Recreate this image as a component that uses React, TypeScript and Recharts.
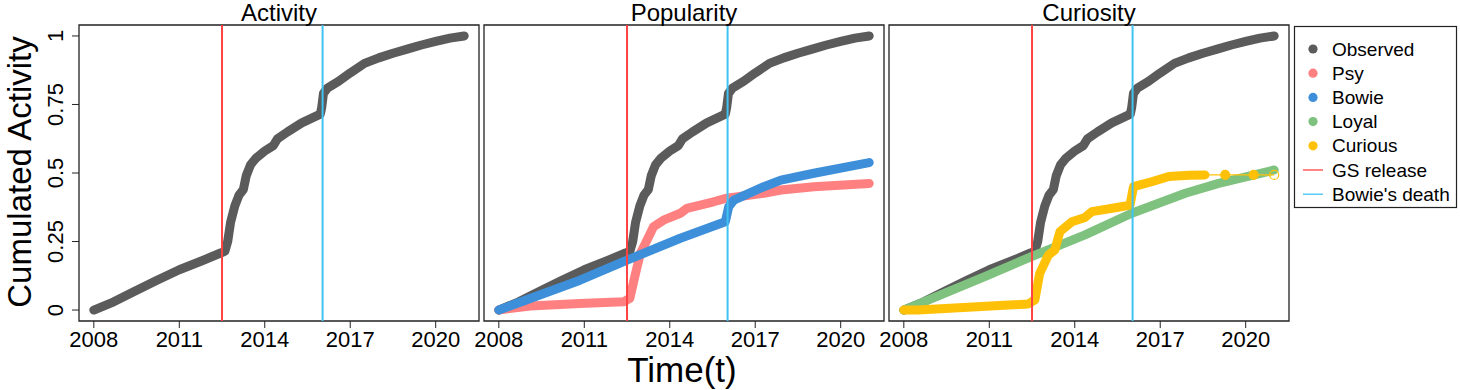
import React from "react";
import { LineChart, Line, XAxis, YAxis, ReferenceLine, ReferenceArea } from "recharts";

// cumulated activity, [year, share]
const observed: [number, number][] = [
  [2008.0, 0.0], [2008.7, 0.03], [2009.4, 0.067], [2010.2, 0.108], [2011.0, 0.147],
  [2011.8, 0.18], [2012.45, 0.208], [2012.6, 0.215], [2012.7, 0.25], [2012.8, 0.32],
  [2012.95, 0.38], [2013.1, 0.42], [2013.25, 0.44], [2013.35, 0.49], [2013.5, 0.53],
  [2013.7, 0.555], [2014.0, 0.58], [2014.3, 0.6], [2014.45, 0.625], [2014.8, 0.65],
  [2015.3, 0.683], [2015.95, 0.715], [2016.0, 0.74], [2016.06, 0.79], [2016.2, 0.81],
  [2016.6, 0.835], [2017.0, 0.865], [2017.5, 0.9], [2018.0, 0.92], [2018.5, 0.937],
  [2019.0, 0.952], [2019.5, 0.967], [2020.0, 0.98], [2020.5, 0.992], [2021.0, 1.0],
];

const psy: [number, number][] = [
  [2008.0, 0.0], [2009.1, 0.015], [2010.85, 0.024], [2012.38, 0.03], [2012.6, 0.043],
  [2012.8, 0.134], [2012.97, 0.207], [2013.2, 0.255], [2013.43, 0.304], [2013.78, 0.328],
  [2014.37, 0.353], [2014.6, 0.371], [2015.54, 0.395], [2016.0, 0.408], [2017.3, 0.426],
  [2017.9, 0.438], [2019.06, 0.45], [2021.0, 0.462],
];

const bowie: [number, number][] = [
  [2008.0, 0.0], [2010.85, 0.109], [2012.5, 0.182], [2014.37, 0.262], [2015.95, 0.322],
  [2016.07, 0.377], [2016.25, 0.401], [2017.3, 0.45], [2017.9, 0.474], [2019.06, 0.499],
  [2021.0, 0.538],
];

const loyal: [number, number][] = [
  [2008.0, 0.0], [2010.84, 0.122], [2012.48, 0.195], [2014.36, 0.274], [2016.0, 0.353],
  [2017.88, 0.426], [2019.05, 0.462], [2021.0, 0.511],
];

const curious: [number, number][] = [
  [2008.0, 0.0], [2008.5, 0.0], [2010.25, 0.01], [2012.36, 0.022], [2012.6, 0.037],
  [2012.77, 0.134], [2013.07, 0.2], [2013.3, 0.219], [2013.48, 0.286], [2013.9, 0.322],
  [2014.36, 0.338], [2014.6, 0.359], [2015.53, 0.375], [2015.94, 0.383], [2016.06, 0.45],
  [2016.7, 0.468], [2017.3, 0.487], [2018.0, 0.492], [2018.57, 0.493],
];

const curiousTail: [number, number][] = [
  [2018.57, 0.493], [2019.28, 0.493], [2020.28, 0.493], [2021.0, 0.493],
];

const xTicks = [2008, 2011, 2014, 2017, 2020];
const yTicks = [0, 0.25, 0.5, 0.75, 1];
const gsRelease = 2012.5;
const bowieDeath = 2016.03;

const FONT = '"Liberation Sans", Arial, Helvetica, sans-serif';
const X_DOMAIN: [number, number] = [2007.48, 2021.52];
const Y_DOMAIN: [number, number] = [-0.04, 1.04];

const C = {
  observed: "#5b5b5b",
  psy: "#ff8080",
  bowie: "#3d8fd9",
  loyal: "#7fc27f",
  curious: "#ffc107",
  gs: "#ff4242",
  death: "#3fc3f3",
};

const toRows = (pts: [number, number][]) => pts.map(([t, v]) => ({ t, v }));

const XTick = (props: any) => (
  <text x={props.x} y={347} textAnchor="middle" fontSize={22} fontFamily={FONT} fill="#000">
    {props.payload.value}
  </text>
);

const YTick = (props: any) => (
  <text
    transform={`translate(63, ${props.y}) rotate(-90)`}
    textAnchor="middle"
    fontSize={22}
    fontFamily={FONT}
    fill="#000"
  >
    {props.payload.value}
  </text>
);

type Series = { name: string; pts: [number, number][]; color: string };

function Panel({ left, width, margin, series, showY, tail }: {
  left: number;
  width: number;
  margin: { top: number; right: number; bottom: number; left: number };
  series: Series[];
  showY: boolean;
  tail?: boolean;
}) {
  return (
    <div style={{ position: "absolute", left, top: 0 }}>
      <LineChart width={width} height={390} margin={margin}>
        <XAxis
          type="number"
          dataKey="t"
          domain={X_DOMAIN}
          ticks={xTicks}
          allowDataOverflow
          height={69}
          axisLine={false}
          tickSize={7}
          tickLine={{ stroke: "#222" }}
          tick={<XTick />}
        />
        {showY ? (
          <YAxis
            type="number"
            domain={Y_DOMAIN}
            ticks={yTicks}
            allowDataOverflow
            width={50}
            axisLine={false}
            tickSize={7}
            tickLine={{ stroke: "#222" }}
            tick={<YTick />}
          />
        ) : (
          <YAxis type="number" domain={Y_DOMAIN} allowDataOverflow hide />
        )}
        <ReferenceArea
          x1={X_DOMAIN[0]}
          x2={X_DOMAIN[1]}
          y1={Y_DOMAIN[0]}
          y2={Y_DOMAIN[1]}
          fill="none"
          fillOpacity={0}
          stroke="#222"
          strokeWidth={1.3}
        />
        {series.map((s) => (
          <Line
            key={s.name}
            data={toRows(s.pts)}
            dataKey="v"
            type="linear"
            stroke={s.color}
            strokeWidth={9}
            strokeLinecap="round"
            strokeLinejoin="round"
            dot={false}
            isAnimationActive={false}
          />
        ))}
        {tail && (
          <Line
            data={toRows(curiousTail)}
            dataKey="v"
            type="linear"
            stroke={C.curious}
            strokeWidth={1.3}
            isAnimationActive={false}
            dot={(p: any) => (
              <circle
                key={p.index}
                cx={p.cx}
                cy={p.cy}
                r={p.index === 0 ? 0 : 4.5}
                fill={p.index === curiousTail.length - 1 ? "none" : C.curious}
                stroke={C.curious}
                strokeWidth={1.2}
              />
            )}
          />
        )}
        <ReferenceLine x={gsRelease} stroke={C.gs} strokeWidth={2} />
        <ReferenceLine x={bowieDeath} stroke={C.death} strokeWidth={2} />
      </LineChart>
    </div>
  );
}

const legendItems = [
  { label: "Observed", color: C.observed, kind: "dot" },
  { label: "Psy", color: C.psy, kind: "dot" },
  { label: "Bowie", color: C.bowie, kind: "dot" },
  { label: "Loyal", color: C.loyal, kind: "dot" },
  { label: "Curious", color: C.curious, kind: "dot" },
  { label: "GS release", color: C.gs, kind: "line" },
  { label: "Bowie's death", color: C.death, kind: "line" },
];

export default function App() {
  return (
    <div
      style={{
        position: "absolute",
        left: 0,
        top: 0,
        width: 1460,
        height: 390,
        background: "#fff",
        fontFamily: FONT,
        overflow: "hidden",
      }}
    >
      <Panel
        left={0}
        width={480}
        margin={{ top: 25, right: 1, bottom: 0, left: 29 }}
        series={[{ name: "Observed", pts: observed, color: C.observed }]}
        showY
      />
      <Panel
        left={440}
        width={460}
        margin={{ top: 25, right: 16, bottom: 0, left: 44 }}
        series={[
          { name: "Observed", pts: observed, color: C.observed },
          { name: "Psy", pts: psy, color: C.psy },
          { name: "Bowie", pts: bowie, color: C.bowie },
        ]}
        showY={false}
      />
      <Panel
        left={845}
        width={460}
        margin={{ top: 25, right: 16, bottom: 0, left: 44 }}
        series={[
          { name: "Observed", pts: observed, color: C.observed },
          { name: "Loyal", pts: loyal, color: C.loyal },
          { name: "Curious", pts: curious, color: C.curious },
        ]}
        showY={false}
        tail
      />
      <svg
        width={1460}
        height={390}
        style={{ position: "absolute", left: 0, top: 0, pointerEvents: "none" }}
      >
        <g fontFamily={FONT} fill="#000">
          <text x={279} y={21} fontSize={24} textAnchor="middle">Activity</text>
          <text x={684} y={21} fontSize={24} textAnchor="middle">Popularity</text>
          <text x={1089} y={21} fontSize={24} textAnchor="middle">Curiosity</text>
          <text x={682} y={382} fontSize={35} textAnchor="middle">Time(t)</text>
          <text transform="translate(31, 172) rotate(-90)" fontSize={33} textAnchor="middle">
            Cumulated Activity
          </text>
        </g>
        <rect x={1294.5} y={26.5} width={162} height={181} fill="#fff" stroke="#222" strokeWidth={1.2} />
        {legendItems.map((it, i) => {
          const cy = 49 + i * 24.2;
          return (
            <g key={it.label}>
              {it.kind === "dot" ? (
                <circle cx={1313} cy={cy} r={4.6} fill={it.color} />
              ) : (
                <line x1={1303} x2={1323} y1={cy} y2={cy} stroke={it.color} strokeWidth={1.3} />
              )}
              <text x={1332} y={cy + 6.5} fontSize={19} fontFamily={FONT} fill="#000">
                {it.label}
              </text>
            </g>
          );
        })}
      </svg>
    </div>
  );
}
